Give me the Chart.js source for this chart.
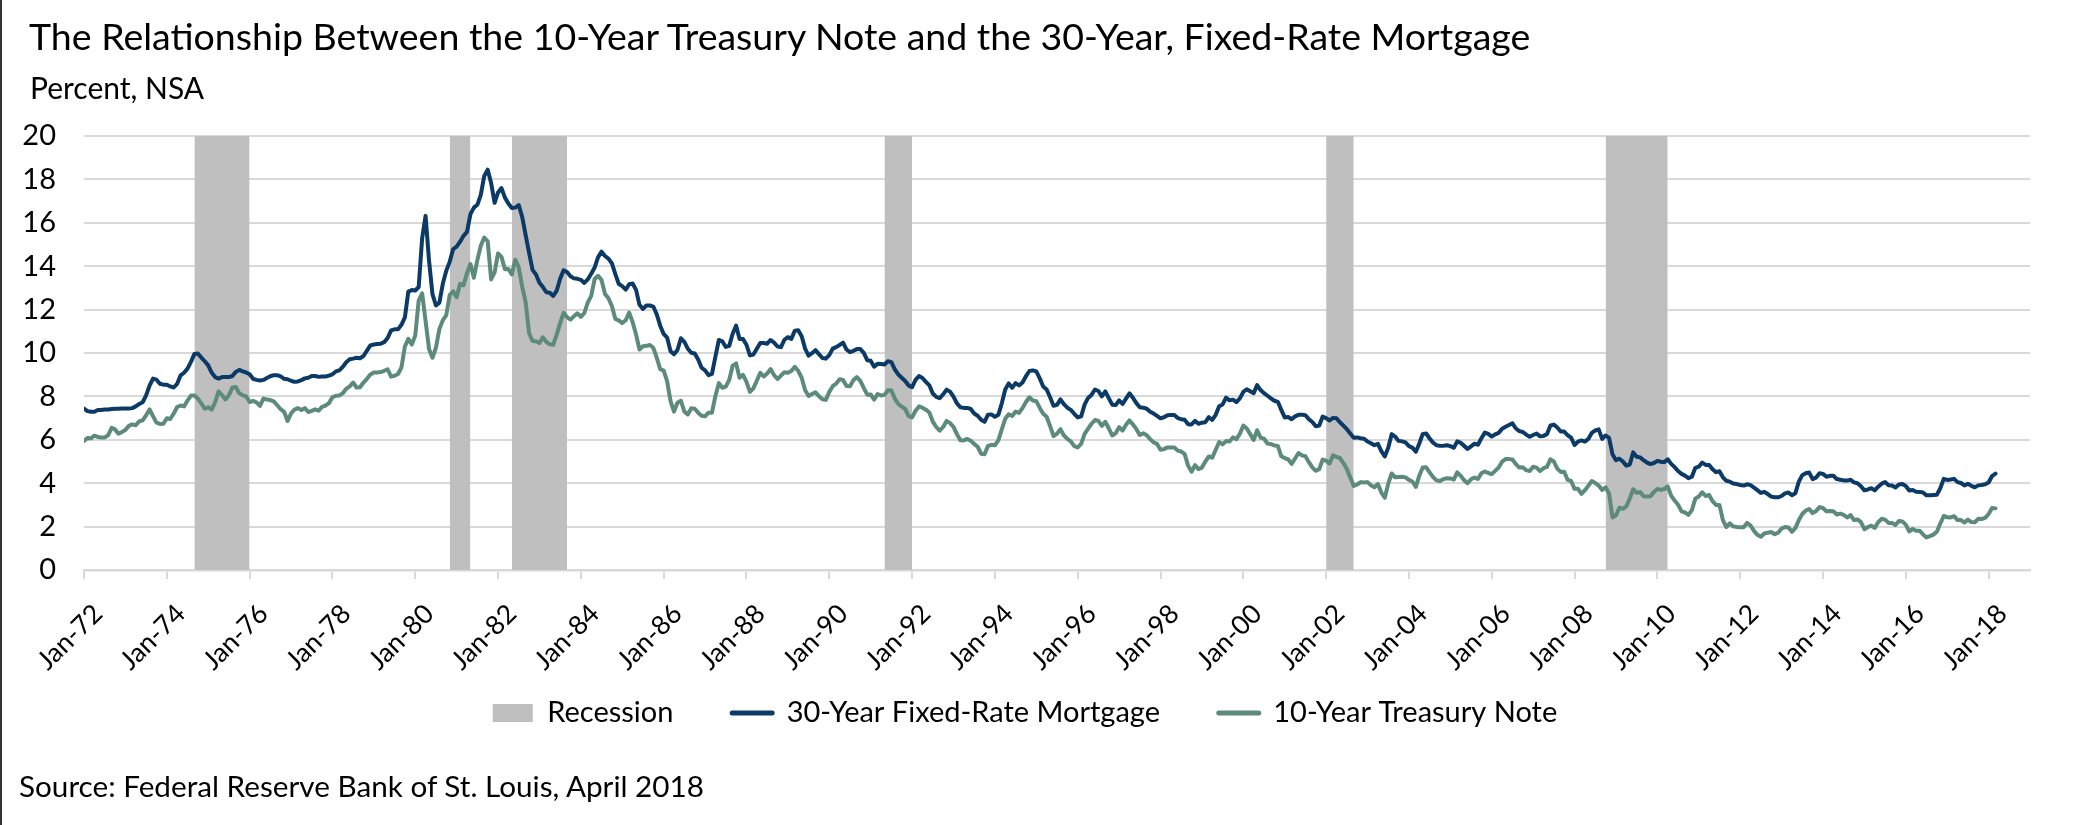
<!DOCTYPE html>
<html lang="en">
<head>
<meta charset="UTF-8" />
<title>10-Year Treasury Note vs 30-Year Fixed-Rate Mortgage</title>
<style>
  * { box-sizing: border-box; margin: 0; padding: 0; }
  html, body { width: 2079px; height: 825px; background: #fff; overflow: hidden; }
  body { position: relative; font-family: Lato, sans-serif; color: #000; }
  #edge { position: absolute; left: 0; top: 0; width: 2px; height: 825px; background: #333; z-index: 2; }
  #title { position: absolute; left: 29px; top: 17px; font-size: 37.5px; line-height: 1; white-space: nowrap; z-index: 2; }
  #subtitle { position: absolute; left: 30px; top: 72px; font-size: 30px; line-height: 1; white-space: nowrap; z-index: 2; }
  #source { position: absolute; left: 19px; top: 771px; font-size: 29.7px; line-height: 1; white-space: nowrap; z-index: 2; }
  #chart-box { position: absolute; left: 0; top: 0; width: 2079px; height: 825px; }
</style>
<script src="https://cdn.jsdelivr.net/npm/chart.js@4/dist/chart.umd.min.js"></script>
</head>
<body>
<div id="edge"></div>
<div id="title">The Relationship Between the 10-Year Treasury Note and the 30-Year, Fixed-Rate Mortgage</div>
<div id="subtitle">Percent, NSA</div>
<div id="chart-box"><canvas id="chart"></canvas></div>
<div id="source">Source: Federal Reserve Bank of St. Louis, April 2018</div>

<script>
// monthly averages, Jan 1972 .. Mar 2018
const startYear = 1972;

const mortgage30 = [
  7.44,7.32,7.29,7.29,7.37,7.37,7.40,7.40,7.42,7.43,7.43,7.44,
  7.44,7.44,7.46,7.54,7.65,7.73,8.05,8.50,8.82,8.77,8.58,8.54,
  8.54,8.46,8.41,8.58,8.97,9.09,9.28,9.59,9.96,9.98,9.79,9.62,
  9.43,9.10,8.89,8.82,8.89,8.89,8.89,8.94,9.13,9.22,9.15,9.10,
  9.02,8.81,8.76,8.73,8.76,8.85,8.93,8.98,8.98,8.92,8.81,8.79,
  8.72,8.67,8.69,8.75,8.83,8.86,8.94,8.94,8.90,8.92,8.92,8.96,
  9.02,9.15,9.20,9.36,9.57,9.71,9.74,9.78,9.76,9.86,10.11,10.35,
  10.39,10.41,10.43,10.50,10.69,11.04,11.09,11.09,11.30,11.64,12.83,12.90,
  12.88,13.04,15.28,16.32,14.26,12.71,12.19,12.32,13.20,13.79,14.21,14.79,
  14.90,15.13,15.40,15.58,16.40,16.70,16.83,17.29,18.16,18.45,17.83,16.92,
  17.40,17.60,17.16,16.89,16.68,16.70,16.82,16.27,15.43,14.61,13.83,13.62,
  13.24,13.04,12.80,12.78,12.63,12.87,13.42,13.81,13.73,13.54,13.44,13.42,
  13.37,13.23,13.39,13.65,13.94,14.42,14.67,14.47,14.35,14.13,13.64,13.18,
  13.08,12.92,13.17,13.20,12.91,12.22,12.03,12.19,12.19,12.14,11.78,11.26,
  10.88,10.71,10.08,9.94,10.14,10.68,10.51,10.20,10.01,9.98,9.70,9.32,
  9.20,8.98,9.04,9.83,10.60,10.54,10.28,10.33,10.89,11.26,10.65,10.64,
  10.38,9.89,9.93,10.20,10.46,10.46,10.43,10.60,10.48,10.30,10.27,10.61,
  10.73,10.65,11.03,11.05,10.77,10.20,9.88,9.99,10.13,9.95,9.77,9.74,
  9.90,10.20,10.27,10.37,10.48,10.16,10.04,10.10,10.18,10.18,10.01,9.67,
  9.64,9.37,9.50,9.49,9.47,9.62,9.58,9.24,9.01,8.86,8.71,8.50,
  8.43,8.76,8.94,8.85,8.67,8.51,8.13,7.98,7.92,8.09,8.31,8.22,
  7.99,7.68,7.50,7.47,7.47,7.42,7.21,7.11,6.92,6.83,7.16,7.17,
  7.06,7.15,7.68,8.32,8.60,8.40,8.61,8.51,8.64,8.93,9.17,9.20,
  9.15,8.83,8.46,8.32,7.96,7.57,7.61,7.86,7.64,7.48,7.38,7.20,
  7.03,7.08,7.62,7.93,8.07,8.32,8.25,8.00,8.23,7.92,7.62,7.60,
  7.82,7.65,7.90,8.14,7.94,7.69,7.50,7.48,7.43,7.29,7.21,7.10,
  6.99,7.04,7.13,7.14,7.14,7.00,6.95,6.92,6.72,6.71,6.87,6.74,
  6.79,6.81,7.04,6.92,7.15,7.55,7.63,7.94,7.82,7.85,7.74,7.91,
  8.21,8.33,8.24,8.15,8.52,8.29,8.15,8.03,7.91,7.80,7.75,7.38,
  7.03,7.05,6.95,7.08,7.15,7.16,7.13,6.95,6.82,6.62,6.66,7.07,
  7.00,6.89,7.01,6.99,6.81,6.65,6.49,6.29,6.09,6.11,6.07,6.05,
  5.92,5.84,5.75,5.81,5.48,5.23,5.63,6.26,6.15,5.95,5.93,5.88,
  5.71,5.64,5.45,5.83,6.27,6.29,6.06,5.87,5.75,5.72,5.73,5.75,
  5.71,5.63,5.93,5.86,5.72,5.58,5.70,5.82,5.77,6.07,6.33,6.27,
  6.15,6.25,6.32,6.51,6.60,6.68,6.76,6.52,6.40,6.36,6.24,6.14,
  6.22,6.29,6.16,6.18,6.26,6.66,6.70,6.57,6.38,6.38,6.21,6.10,
  5.76,5.92,5.97,5.92,6.04,6.32,6.43,6.48,6.04,6.20,6.09,5.33,
  5.06,5.13,5.00,4.81,4.86,5.42,5.22,5.19,5.06,4.95,4.88,4.93,
  5.03,4.99,4.97,5.10,4.89,4.74,4.56,4.43,4.35,4.23,4.30,4.71,
  4.76,4.95,4.84,4.84,4.64,4.51,4.55,4.27,4.11,4.07,3.99,3.96,
  3.92,3.89,3.95,3.91,3.80,3.68,3.55,3.60,3.50,3.38,3.35,3.35,
  3.41,3.53,3.57,3.45,3.54,4.07,4.37,4.46,4.49,4.19,4.26,4.46,
  4.43,4.30,4.34,4.34,4.19,4.16,4.13,4.12,4.16,4.04,4.00,3.86,
  3.67,3.71,3.77,3.67,3.84,3.98,4.05,3.91,3.89,3.80,3.94,3.96,
  3.87,3.66,3.69,3.61,3.60,3.57,3.44,3.44,3.46,3.47,3.77,4.20,
  4.15,4.17,4.20,4.05,4.01,3.90,3.97,3.88,3.81,3.90,3.92,3.95,
  4.03,4.33,4.44
];

const treasury10 = [
  5.95,6.08,6.07,6.19,6.13,6.11,6.11,6.21,6.55,6.48,6.28,6.36,
  6.46,6.64,6.71,6.67,6.85,6.90,7.13,7.40,7.09,6.79,6.73,6.74,
  6.99,6.96,7.21,7.51,7.58,7.54,7.81,8.04,8.04,7.90,7.68,7.43,
  7.50,7.39,7.73,8.23,8.06,7.86,8.06,8.40,8.43,8.14,8.05,8.00,
  7.74,7.79,7.73,7.56,7.90,7.86,7.83,7.77,7.59,7.41,7.29,6.87,
  7.21,7.39,7.46,7.37,7.46,7.28,7.33,7.40,7.34,7.52,7.58,7.69,
  7.96,8.03,8.04,8.15,8.35,8.46,8.64,8.41,8.42,8.64,8.81,9.01,
  9.10,9.10,9.12,9.18,9.25,8.91,8.95,9.03,9.33,10.30,10.65,10.39,
  10.80,12.41,12.75,11.47,10.18,9.78,10.25,11.10,11.51,11.75,12.68,12.84,
  12.57,13.19,13.12,13.68,14.10,13.47,14.28,14.94,15.32,15.15,13.39,13.72,
  14.59,14.43,13.86,13.87,13.62,14.30,13.95,13.06,12.34,10.91,10.55,10.54,
  10.46,10.72,10.51,10.40,10.38,10.85,11.38,11.85,11.65,11.54,11.69,11.83,
  11.67,11.84,12.32,12.63,13.41,13.56,13.36,12.72,12.52,12.16,11.57,11.50,
  11.38,11.51,11.86,11.43,10.85,10.16,10.31,10.33,10.37,10.24,9.78,9.26,
  9.19,8.70,7.78,7.30,7.71,7.80,7.30,7.17,7.45,7.43,7.25,7.11,
  7.08,7.25,7.25,8.02,8.61,8.40,8.45,8.76,9.42,9.52,8.86,8.99,
  8.67,8.21,8.37,8.72,9.09,8.92,9.06,9.26,8.98,8.80,8.96,9.11,
  9.09,9.17,9.36,9.18,8.86,8.28,8.02,8.11,8.19,8.01,7.87,7.84,
  8.21,8.47,8.59,8.79,8.76,8.48,8.47,8.75,8.89,8.72,8.39,8.08,
  8.09,7.85,8.11,8.04,8.07,8.28,8.27,7.90,7.65,7.53,7.42,7.09,
  7.03,7.34,7.54,7.48,7.39,7.26,6.84,6.59,6.42,6.59,6.87,6.77,
  6.60,6.26,5.98,5.97,6.04,5.96,5.81,5.68,5.36,5.33,5.72,5.77,
  5.75,5.97,6.48,6.97,7.18,7.10,7.30,7.24,7.46,7.74,7.96,7.81,
  7.78,7.47,7.20,7.06,6.63,6.17,6.28,6.49,6.20,6.04,5.93,5.71,
  5.65,5.81,6.27,6.51,6.74,6.91,6.87,6.64,6.83,6.53,6.20,6.30,
  6.58,6.42,6.69,6.89,6.71,6.49,6.22,6.30,6.21,6.03,5.88,5.81,
  5.54,5.57,5.65,5.64,5.65,5.50,5.46,5.34,4.81,4.53,4.83,4.65,
  4.72,5.00,5.23,5.18,5.54,5.90,5.79,5.94,5.92,6.11,6.03,6.28,
  6.66,6.52,6.26,5.99,6.44,6.10,6.05,5.83,5.80,5.74,5.72,5.24,
  5.16,5.10,4.89,5.14,5.39,5.28,5.24,4.97,4.73,4.57,4.65,5.09,
  5.04,4.91,5.28,5.21,5.16,4.93,4.65,4.26,3.87,3.94,4.05,4.03,
  4.05,3.90,3.81,3.96,3.57,3.33,3.98,4.45,4.27,4.29,4.30,4.27,
  4.15,4.08,3.83,4.35,4.72,4.73,4.50,4.28,4.13,4.10,4.19,4.23,
  4.22,4.17,4.50,4.34,4.14,4.00,4.18,4.26,4.20,4.46,4.54,4.47,
  4.42,4.57,4.72,4.99,5.11,5.11,5.09,4.88,4.72,4.73,4.60,4.56,
  4.76,4.72,4.56,4.69,4.75,5.10,5.00,4.67,4.52,4.53,4.15,4.10,
  3.74,3.74,3.51,3.68,3.88,4.10,4.01,3.89,3.69,3.81,3.53,2.42,
  2.52,2.87,2.82,2.93,3.29,3.72,3.56,3.59,3.40,3.39,3.40,3.59,
  3.73,3.69,3.73,3.85,3.42,3.20,3.01,2.70,2.65,2.54,2.76,3.29,
  3.39,3.58,3.41,3.46,3.17,3.00,3.00,2.30,1.98,2.15,2.01,1.98,
  1.97,1.97,2.17,2.05,1.80,1.62,1.53,1.68,1.72,1.75,1.65,1.72,
  1.91,1.98,1.96,1.76,1.93,2.30,2.58,2.74,2.81,2.62,2.72,2.90,
  2.86,2.71,2.72,2.71,2.56,2.60,2.54,2.42,2.53,2.30,2.33,2.21,
  1.88,1.98,2.04,1.94,2.20,2.36,2.32,2.17,2.17,2.07,2.26,2.24,
  2.09,1.78,1.89,1.81,1.81,1.64,1.50,1.56,1.63,1.76,2.14,2.49,
  2.43,2.42,2.48,2.30,2.30,2.19,2.32,2.21,2.20,2.36,2.35,2.40,
  2.58,2.86,2.84
];

// shaded recession bars as they appear on the chart
const recessionStart = ['1974-09', '1980-11', '1982-05', '1991-05', '2002-01', '2008-10'];
const recessionEnd   = ['1976-01', '1981-05', '1983-09', '1992-01', '2002-09', '2010-04'];

const seriesNames = ['30-Year Fixed-Rate Mortgage', '10-Year Treasury Note'];
const tickYears = [1972, 1974, 1976, 1978, 1980, 1982, 1984, 1986, 1988, 1990, 1992, 1994,
  1996, 1998, 2000, 2002, 2004, 2006, 2008, 2010, 2012, 2014, 2016, 2018];
const yMin = 0, yMax = 20, yStep = 2;

const navy = '#0c3a67';
const sage = '#5c8a7b';
const grey = '#bfbfbf';
const gridGrey = '#d9d9d9';

const toYear = s => { const [y, m] = s.split('-').map(Number); return y + (m - 1) / 12; };
const toPoints = arr => arr.map((v, i) => ({ x: startYear + i / 12, y: v }));

const lineStyle = color => ({
  borderColor: color,
  backgroundColor: color,
  borderWidth: 4,
  borderJoinStyle: 'round',
  borderCapStyle: 'round',
  pointRadius: 0,
  tension: 0,
  fill: false
});

const datasets = [
  Object.assign({ label: seriesNames[0], data: toPoints(mortgage30) }, lineStyle(navy)),
  Object.assign({ label: seriesNames[1], data: toPoints(treasury10) }, lineStyle(sage))
];
recessionStart.forEach((s, i) => {
  datasets.push({
    label: 'Recession',
    data: [{ x: toYear(s), y: yMax }, { x: toYear(recessionEnd[i]), y: yMax }],
    fill: 'origin',
    backgroundColor: grey,
    borderColor: 'rgba(0,0,0,0)',
    borderWidth: 0,
    pointRadius: 0
  });
});

Chart.defaults.font.family = 'Lato, sans-serif';
Chart.defaults.color = '#000';

// labels.padding also sets the space above the legend, so widen the gap between entries with text
const gap = '\u2003\u2002';

new Chart(document.getElementById('chart'), {
  type: 'line',
  data: { datasets },
  options: {
    animation: false,
    responsive: true,
    maintainAspectRatio: false,
    devicePixelRatio: 1,
    layout: { padding: { top: 136, right: 49, bottom: 87.5, left: 20 } },
    scales: {
      x: {
        type: 'linear',
        min: 1972,
        max: 2019,
        afterBuildTicks: s => { s.ticks = tickYears.map(v => ({ value: v })); },
        afterFit: s => { s.height = 106; },
        ticks: {
          autoSkip: false,
          minRotation: 45,
          maxRotation: 45,
          padding: 19,
          labelOffset: 14,
          font: { size: 26.5 },
          callback: v => 'Jan-' + String(v).slice(2)
        },
        grid: { display: true, drawOnChartArea: false, drawTicks: true, tickLength: 9, color: gridGrey, lineWidth: 2 },
        border: { display: true, color: gridGrey, width: 2.5 }
      },
      y: {
        min: yMin,
        max: yMax,
        afterFit: s => { s.width = 64; },
        ticks: { stepSize: yStep, padding: 28, font: { size: 29 } },
        grid: { color: gridGrey, lineWidth: 2, drawTicks: false },
        border: { display: false }
      }
    },
    plugins: {
      tooltip: { enabled: false },
      legend: {
        position: 'bottom',
        labels: {
          usePointStyle: true,
          pointStyleWidth: 40,
          boxHeight: 18,
          padding: 22.5,
          font: { size: 29 },
          generateLabels: () => [
            { text: 'Recession' + gap, fillStyle: grey, strokeStyle: grey, lineWidth: 0, pointStyle: 'rect', hidden: false, datasetIndex: 2 },
            { text: seriesNames[0] + gap, fillStyle: navy, strokeStyle: navy, lineWidth: 5, lineCap: 'round', pointStyle: 'line', hidden: false, datasetIndex: 0 },
            { text: seriesNames[1], fillStyle: sage, strokeStyle: sage, lineWidth: 5, lineCap: 'round', pointStyle: 'line', hidden: false, datasetIndex: 1 }
          ]
        }
      }
    }
  }
});
</script>
</body>
</html>
